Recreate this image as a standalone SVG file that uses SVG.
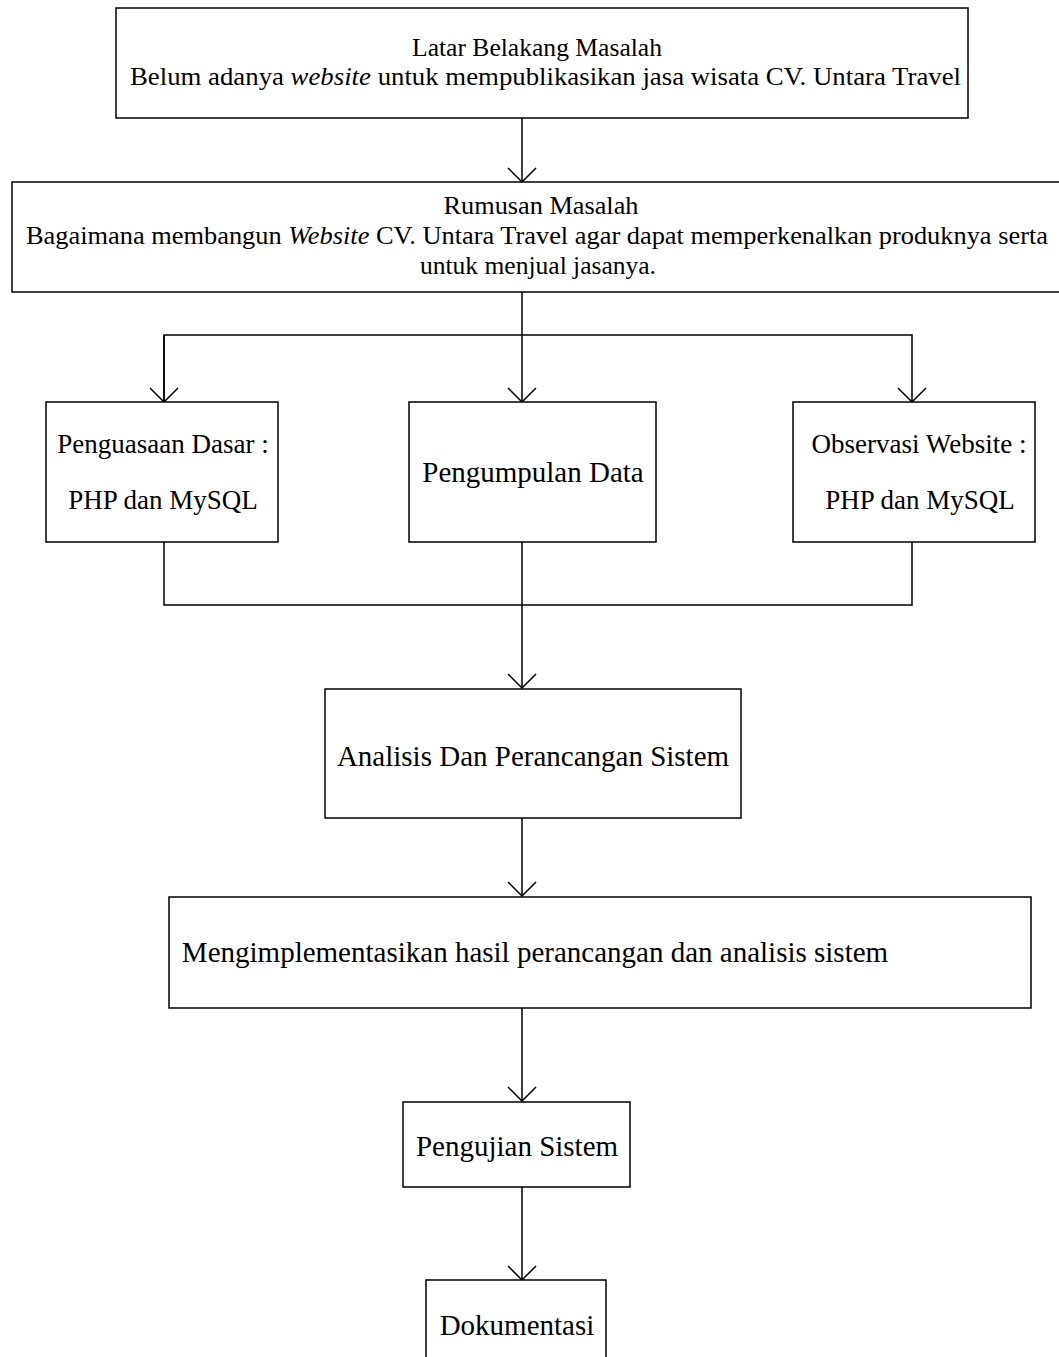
<svg xmlns="http://www.w3.org/2000/svg" width="1059" height="1357" viewBox="0 0 1059 1357">
<style>
.box{fill:#fff;stroke:#000;stroke-width:1.5}
.t{font-family:"Liberation Serif","Times New Roman",serif;fill:#000;text-anchor:middle}
.c{fill:none;stroke:#000;stroke-width:1.5}
</style>
<defs>
<marker id="ah" viewBox="-15 -15 16 30" refX="0" refY="0" markerWidth="16" markerHeight="30" markerUnits="userSpaceOnUse" orient="auto">
<path d="M-14,-14 L0,0 L-14,14" fill="none" stroke="#000" stroke-width="1.5"/>
</marker>
</defs>
<rect width="1059" height="1357" fill="#fff"/>
<g id="connectors">
<line class="c" x1="522" y1="118" x2="522" y2="182" marker-end="url(#ah)"/>
<line class="c" x1="522" y1="292" x2="522" y2="402" marker-end="url(#ah)"/>
<polyline class="c" points="164,402 164,335 912,335 912,402" marker-end="url(#ah)"/>
<line class="c" x1="164" y1="335" x2="164" y2="402" marker-end="url(#ah)"/>
<polyline class="c" points="164,542 164,605 912,605 912,542"/>
<line class="c" x1="522" y1="542" x2="522" y2="688" marker-end="url(#ah)"/>
<line class="c" x1="522" y1="818" x2="522" y2="896" marker-end="url(#ah)"/>
<line class="c" x1="522" y1="1008" x2="522" y2="1101" marker-end="url(#ah)"/>
<line class="c" x1="522" y1="1187" x2="522" y2="1280" marker-end="url(#ah)"/>
</g>
<g id="n1"><rect class="box" x="116" y="8" width="852" height="110"/>
<text class="t" font-size="26" x="537" y="56" textLength="250" lengthAdjust="spacingAndGlyphs">Latar Belakang Masalah</text>
<text class="t" font-size="26" x="545.5" y="85" textLength="831" lengthAdjust="spacingAndGlyphs">Belum adanya <tspan font-style="italic">website</tspan> untuk mempublikasikan jasa wisata CV. Untara Travel</text></g>
<g id="n2"><rect class="box" x="12" y="182" width="1060" height="110"/>
<text class="t" font-size="26" x="541" y="214" textLength="195" lengthAdjust="spacingAndGlyphs">Rumusan Masalah</text>
<text class="t" font-size="26" x="537" y="244" textLength="1022" lengthAdjust="spacingAndGlyphs">Bagaimana membangun <tspan font-style="italic">Website</tspan> CV. Untara Travel agar dapat memperkenalkan produknya serta</text>
<text class="t" font-size="26" x="538" y="274" textLength="236" lengthAdjust="spacingAndGlyphs">untuk menjual jasanya.</text></g>
<g id="n3"><rect class="box" x="46" y="402" width="232" height="140"/>
<text class="t" font-size="27" x="163" y="453">Penguasaan Dasar :</text>
<text class="t" font-size="27" x="163" y="509">PHP dan MySQL</text></g>
<g id="n4"><rect class="box" x="409" y="402" width="247" height="140"/>
<text class="t" font-size="29" x="533" y="482">Pengumpulan Data</text></g>
<g id="n5"><rect class="box" x="793" y="402" width="242" height="140"/>
<text class="t" font-size="27" x="919" y="453">Observasi Website :</text>
<text class="t" font-size="27" x="920" y="509">PHP dan MySQL</text></g>
<g id="n6"><rect class="box" x="325" y="689" width="416" height="129"/>
<text class="t" font-size="29" x="533" y="766">Analisis Dan Perancangan Sistem</text></g>
<g id="n7"><rect class="box" x="169" y="897" width="862" height="111"/>
<text class="t" font-size="29" x="535" y="962">Mengimplementasikan hasil perancangan dan analisis sistem</text></g>
<g id="n8"><rect class="box" x="403" y="1102" width="227" height="85"/>
<text class="t" font-size="29" x="517" y="1156">Pengujian Sistem</text></g>
<g id="n9"><rect class="box" x="426" y="1280" width="180" height="90"/>
<text class="t" font-size="29" x="517" y="1335">Dokumentasi</text></g>
</svg>
